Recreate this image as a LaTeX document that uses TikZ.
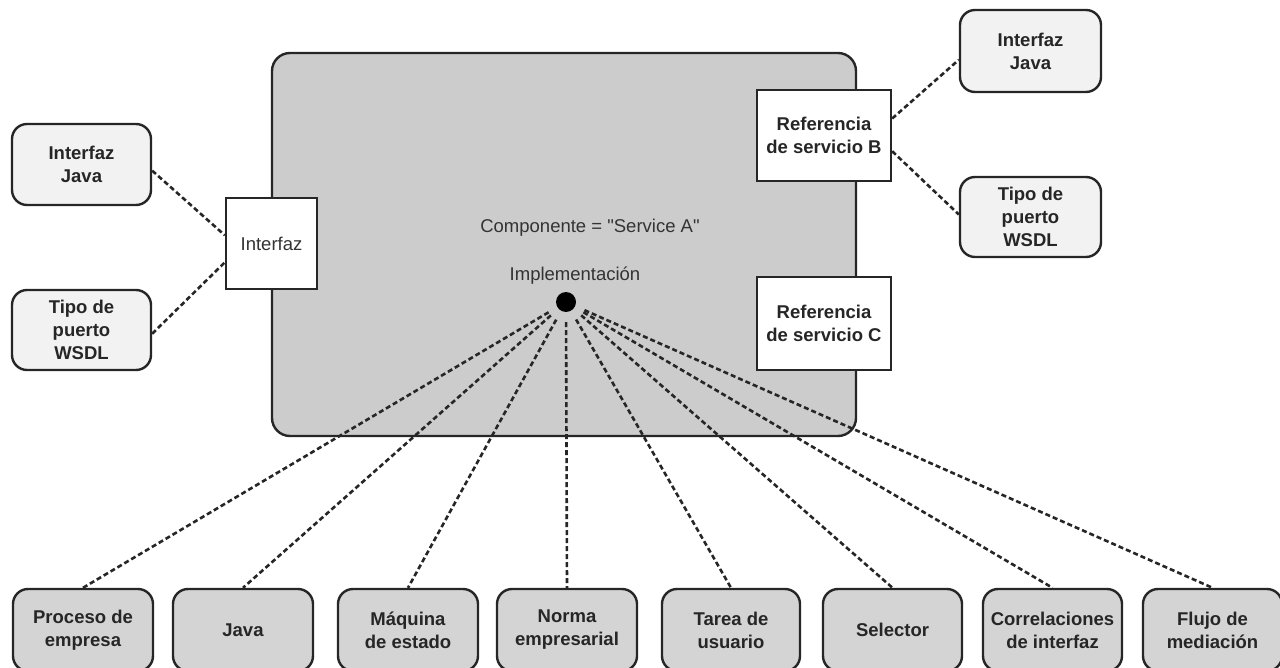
\documentclass[tikz,border=0pt]{standalone}
\usepackage{fontspec}
\setmainfont{Liberation Sans}
\begin{document}
\begin{tikzpicture}[x=1pt,y=-1pt,
  frame/.style={draw=black!85, line width=2.4pt},
  boldtext/.style={font=\bfseries\fontsize{18.5}{23}\selectfont, text=black!85, align=center},
  softbox/.style={frame, boldtext, rounded corners=15pt, fill=black!5, inner sep=0pt},
  kindbox/.style={softbox, fill=black!17, minimum width=140pt, minimum height=82pt},
  portbox/.style={frame, fill=white, align=center, inner sep=0pt, text=black!85},
  link/.style={draw=black!85, line width=2.6pt, dash pattern=on 5pt off 3pt},
  plain/.style={font=\fontsize{18.5}{23}\selectfont, text=black!80}
]
\useasboundingbox (0,0) rectangle (1280,668);
\clip (0,0) rectangle (1280,668);

% component body
\node[frame, rounded corners=18pt, fill=black!20, minimum width=584pt, minimum height=383pt] (comp) at (564,244.5) {};
\node[plain] (cname) at (590,228) {Componente = \textquotedbl Service A\textquotedbl};
\node[plain] (ilabel) at (575,276) {Implementación};
\node[circle, fill=black, minimum size=20pt, inner sep=0pt] (impl) at (566,302) {};

% interface and references on the component border
\node[portbox, plain, minimum width=91pt, minimum height=91pt] (iface) at (271.5,243.5) {Interfaz};
\node[portbox, boldtext, minimum width=134pt, minimum height=91pt] (refB) at (824,135.5) {Referencia\\de servicio B};
\node[portbox, boldtext, minimum width=134pt, minimum height=93pt] (refC) at (824,323.5) {Referencia\\de servicio C};

% interface kinds
\node[softbox, minimum width=139pt, minimum height=81pt] (ljava) at (81.5,164.5) {Interfaz\\Java};
\node[softbox, minimum width=139pt, minimum height=80pt] (lwsdl) at (81.5,330) {Tipo de\\puerto\\WSDL};
\node[softbox, minimum width=141pt, minimum height=82pt] (rjava) at (1030.5,51) {Interfaz\\Java};
\node[softbox, minimum width=141pt, minimum height=80pt] (rwsdl) at (1030.5,217) {Tipo de\\puerto\\WSDL};

\draw[link] (ljava.-5) -- (iface.170);
\draw[link] (lwsdl.357) -- (iface.202);
\draw[link] (refB.14) -- (rjava.187);
\draw[link] (refB.-13) -- (rwsdl.178);

% implementation kinds
\node[kindbox] (k1) at (83,630) {Proceso de\\empresa};
\node[kindbox] (k2) at (243,630) {Java};
\node[kindbox] (k3) at (408,630) {Máquina\\de estado};
\node[kindbox] (k4) at (567,630) {Norma\\empresarial};
\node[kindbox, minimum width=138pt] (k5) at (731,630) {Tarea de\\usuario};
\node[kindbox, minimum width=139pt] (k6) at (892.5,630) {Selector};
\node[kindbox, minimum width=139pt] (k7) at (1052.5,630) {Correlaciones\\de interfaz};
\node[kindbox, minimum width=139pt] (k8) at (1212.5,630) {Flujo de\\mediación};

\foreach \k in {k1,k2,k3,k4,k5,k6,k7,k8}
  \draw[link, shorten <=10pt] (impl) -- (\k.north);
\end{tikzpicture}
\end{document}
